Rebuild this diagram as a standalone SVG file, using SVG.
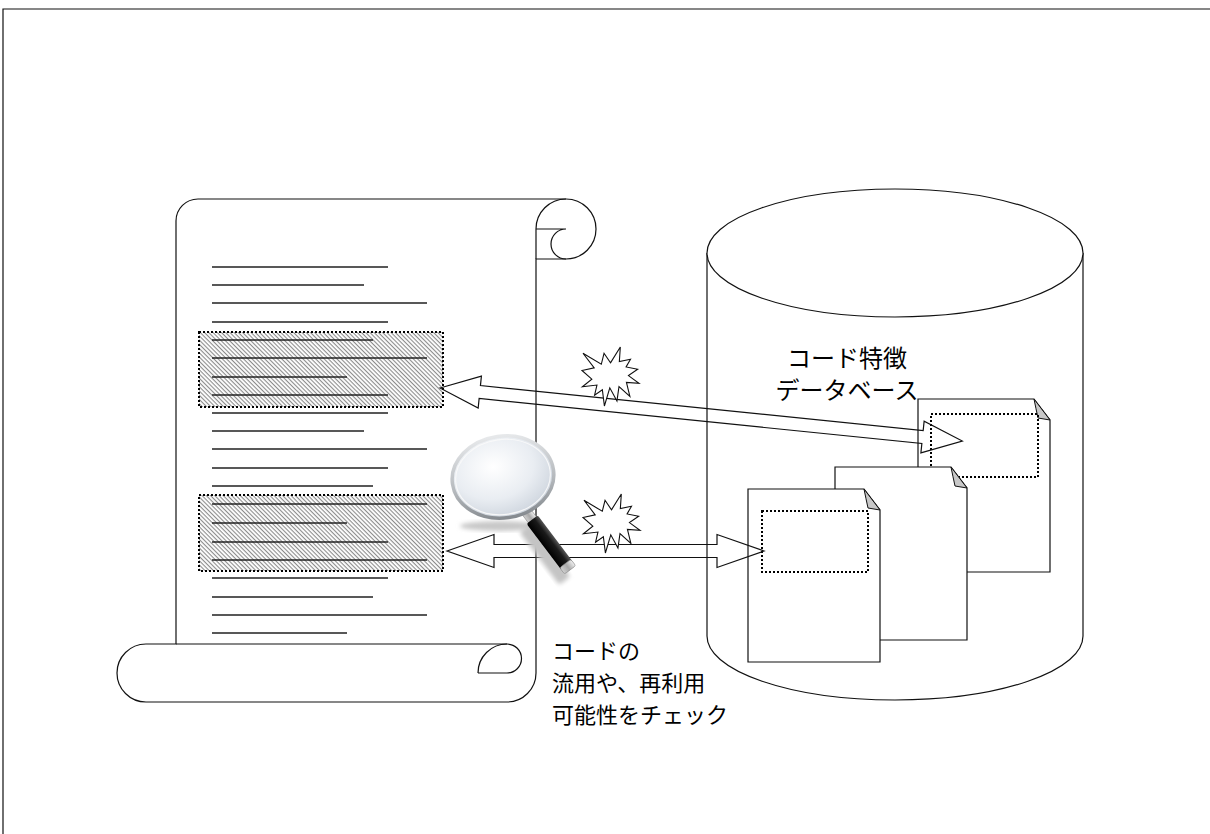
<svg xmlns="http://www.w3.org/2000/svg" width="1210" height="834" viewBox="0 0 1210 834">
  <style>
    .ln { fill: none; stroke: #111; stroke-width: 1.2; }
    .shape { fill: #fff; stroke: #111; stroke-width: 1.2; }
    .dots { fill: none; stroke: #000; stroke-width: 2; stroke-dasharray: 2 2; }
    .rows { fill: none; stroke: #222; stroke-width: 1.3; }
    .arrow { fill: none; stroke: #111; stroke-width: 1.2; stroke-linejoin: miter; }
    .burst { fill: #fff; stroke: #111; stroke-width: 1.1; }
    .label { font-family: "Noto Sans CJK JP", "Noto Sans", sans-serif; fill: #000; }
  </style>
  <defs>
    <pattern id="hatch" patternUnits="userSpaceOnUse" width="3" height="3" patternTransform="rotate(45)">
      <rect width="3" height="3" fill="#fff"/>
      <rect width="3" height="1.1" fill="#8c8c8c"/>
    </pattern>
    <path id="burstShape" class="burst" d="M28.5,15.84 L38.32,0 L37.35,14.55 L48.5,12.17 L44.08,19.98 L55.67,22.23 L46.46,28.61 L57,36.3 L44.43,35.35 L47.88,49.43 L37,39.49 L34.96,53.91 L27.79,40.8 L22.39,59 L20.36,42.69 L12.57,48.12 L14.95,38.07 L0.36,39.84 L9.82,32.16 L0,23.53 L12.21,20.81 L0.98,6.27 L19.3,17.26 L22.04,6.27 Z"/>
    <g id="page">
      <path class="shape" d="M0,0 H116 L132,21 V173 H0 Z"/>
      <path d="M116,0 L132,21 L120,19 Q118,10 116,0 Z" fill="#c8c8c8" stroke="#111" stroke-width="1"/>
    </g>
    <radialGradient id="glass" cx="0.42" cy="0.36" r="0.66">
      <stop offset="0" stop-color="#ffffff"/>
      <stop offset="0.6" stop-color="#e9edf2"/>
      <stop offset="1" stop-color="#cdd4dd"/>
    </radialGradient>
    <linearGradient id="rim" x1="0" y1="0" x2="0" y2="1">
      <stop offset="0" stop-color="#e6e8ea"/>
      <stop offset="0.6" stop-color="#b4b8bc"/>
      <stop offset="1" stop-color="#868b90"/>
    </linearGradient>
    <linearGradient id="grip" x1="0" y1="0" x2="0" y2="1">
      <stop offset="0" stop-color="#555"/>
      <stop offset="0.35" stop-color="#1a1a1a"/>
      <stop offset="1" stop-color="#000"/>
    </linearGradient>
    <linearGradient id="metal" x1="0" y1="0" x2="0" y2="1">
      <stop offset="0" stop-color="#f0f0f0"/>
      <stop offset="0.5" stop-color="#a8a8a8"/>
      <stop offset="1" stop-color="#d0d0d0"/>
    </linearGradient>
    <filter id="soft" x="-20%" y="-20%" width="140%" height="140%">
      <feGaussianBlur stdDeviation="2"/>
    </filter>
  </defs>

  <!-- outer frame -->
  <path class="ln" d="M3,834 V9 H1210" stroke-width="1.5"/>

  <!-- database cylinder -->
  <g id="database">
    <path class="shape" d="M707,253 V636 A188,64 0 0 0 1083,636 V253"/>
    <ellipse class="shape" cx="895" cy="253" rx="188" ry="64"/>
  </g>

  <!-- source code scroll -->
  <g id="scroll">
    <path class="shape" d="M176,644 V221 A22,22 0 0 1 198,199 H566 A30,30 0 0 1 566,259 H536 V673 A29,29 0 0 1 507,702 H146 A29,29 0 0 1 146,644 H176 Z"/>
    <path class="ln" d="M176,644 H507"/>
    <path class="ln" d="M566,199 A30,30 0 0 0 536,229 V259 M536,229 H566 A15,15 0 0 0 566,259"/>
    <path class="ln" d="M478,673 A29,29 0 0 1 507,644 A14.5,14.5 0 0 1 507,673 H478"/>
    <rect x="199" y="332" width="244" height="75" fill="url(#hatch)"/>
    <rect x="199" y="495" width="244" height="76" fill="url(#hatch)"/>
    <path class="rows" d="M212,267H388 M212,285H364 M212,303H427 M212,322H388 M212,340H373 M212,358H427 M212,377H347 M212,395H388 M212,413H388 M212,431H364 M212,449H427 M212,468H388 M212,486H373 M212,504H427 M212,523H347 M212,542H388 M212,560H427 M212,578H388 M212,597H373 M212,615H427 M212,633H347"/>
    <rect class="dots" x="199" y="332" width="244" height="75"/>
    <rect class="dots" x="199" y="495" width="244" height="76"/>
  </g>

  <!-- stored code documents -->
  <g id="doc-back">
    <use href="#page" x="918" y="399"/>
    <rect class="dots" x="931" y="414" width="107" height="63"/>
  </g>
  <g id="doc-middle">
    <use href="#page" x="835" y="467"/>
  </g>
  <g id="doc-front">
    <use href="#page" x="748" y="489"/>
    <rect class="dots" x="762" y="511" width="106" height="61"/>
  </g>

  <!-- matching connectors -->
  <g id="connectors">
    <polygon class="arrow" transform="translate(440,388) rotate(5.8)" points="0,0 40,-16 40,-6.5 485,-6.5 485,-16 525,0 485,16 485,6.5 40,6.5 40,16"/>
    <polygon class="arrow" points="447,551 494,534.5 494,544.5 717,544.5 717,534.5 764,551 717,567.5 717,557.5 494,557.5 494,567.5"/>
    <use href="#burstShape" x="582" y="347"/>
    <use href="#burstShape" x="583" y="494"/>
  </g>

  <!-- magnifying glass -->
  <g id="magnifier">
    <ellipse cx="500" cy="526" rx="40" ry="5" fill="#c8c8c8" filter="url(#soft)"/>
    <g transform="translate(525,528) rotate(53)" filter="url(#soft)">
      <rect x="0" y="-7" width="66" height="14" rx="3" fill="#c4c4c4"/>
    </g>
    <g transform="translate(531,518) rotate(53)">
      <rect x="-10" y="-5" width="13" height="10" fill="url(#metal)" stroke="#888" stroke-width="0.6"/>
      <rect x="2" y="-7" width="58" height="14" rx="2" fill="url(#grip)"/>
      <rect x="57" y="-7" width="8" height="14" rx="2" fill="url(#metal)" stroke="#888" stroke-width="0.6"/>
    </g>
    <ellipse cx="503" cy="477" rx="51" ry="41" transform="rotate(-8 503 477)" fill="url(#glass)" stroke="url(#rim)" stroke-width="3.5"/>
    <ellipse cx="503" cy="477" rx="47.5" ry="37.5" transform="rotate(-8 503 477)" fill="none" stroke="#fafafa" stroke-width="1.2" opacity="0.9"/>
  </g>

  <!-- labels -->
  <g id="db-label">
    <text class="label" font-size="24" text-anchor="middle"><tspan x="847" y="367">コード特徴</tspan><tspan x="847" y="399">データベース</tspan></text>
  </g>
  <g id="check-label">
    <text class="label" font-size="22"><tspan x="552" y="659">コードの</tspan><tspan x="552" y="691">流用や、再利用</tspan><tspan x="552" y="723">可能性をチェック</tspan></text>
  </g>
</svg>
